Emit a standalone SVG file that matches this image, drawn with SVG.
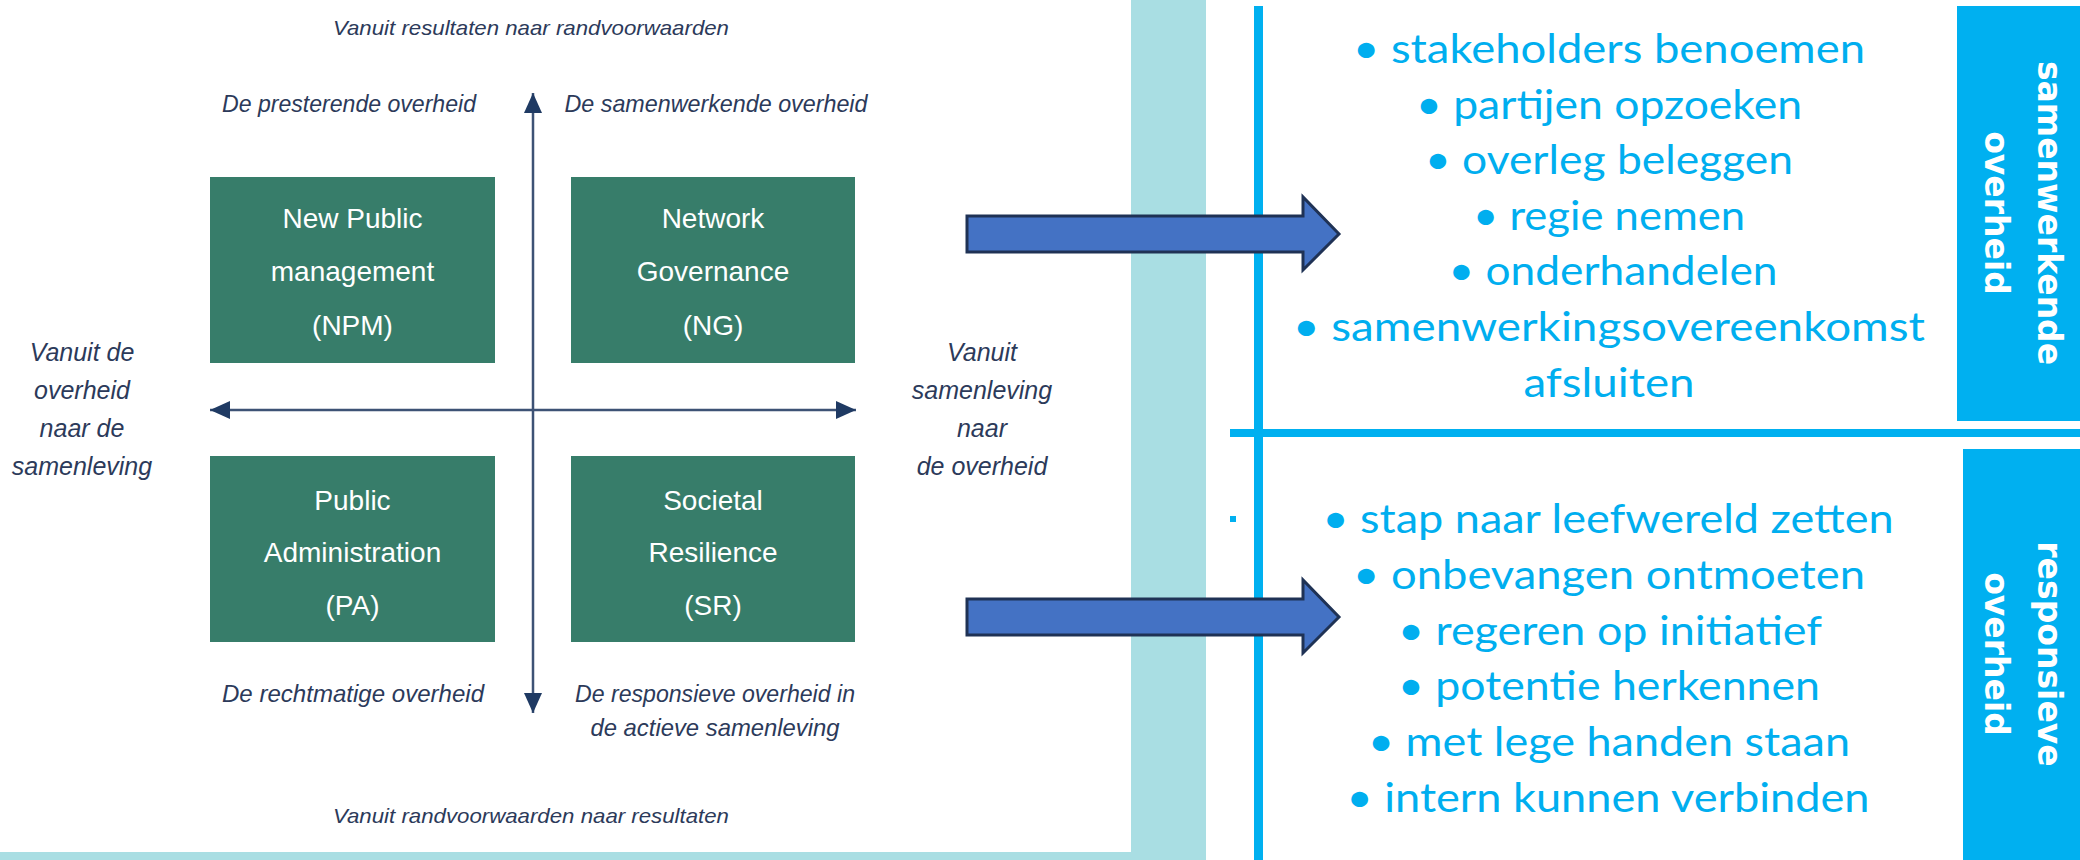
<svg xmlns="http://www.w3.org/2000/svg" width="2080" height="860" viewBox="0 0 2080 860">
<defs>
<style>
.lbl{font-family:"Liberation Sans",Arial,sans-serif;font-style:italic;fill:#2C3A5A;text-anchor:middle}
.box{fill:#377D6A}
.boxt{font-family:"Liberation Sans",Arial,sans-serif;font-size:28px;fill:#FFFFFF;text-anchor:middle}
.item{font-family:Lato,"Open Sans",sans-serif;font-size:40px;fill:#00AEEF;text-anchor:middle}
.tab{fill:#00B0F0}
.tabt{font-family:"DejaVu Sans",sans-serif;font-weight:bold;font-size:33px;fill:#FFFFFF;text-anchor:middle}
.axis{stroke:#3D5275;stroke-width:2.5;fill:none}
.blk{fill:#4472C4;stroke:#1F3255;stroke-width:3;stroke-linejoin:miter}
</style>
<marker id="ah" markerUnits="userSpaceOnUse" markerWidth="20" markerHeight="18" refX="20" refY="9" orient="auto-start-reverse">
<path d="M0,0 L20,9 L0,18 z" fill="#1F3A63"/>
</marker>
</defs>
<rect width="2080" height="860" fill="#FFFFFF"/>
<rect x="1131" y="0" width="75" height="860" fill="#A9DEE3"/>
<rect x="0" y="852" width="1131" height="8" fill="#A9DEE3"/>

<g id="left-diagram">
<g id="label-top"><text class="lbl" x="531" y="35" font-size="21" textLength="396" lengthAdjust="spacingAndGlyphs">Vanuit resultaten naar randvoorwaarden</text></g>
<g id="label-bottom"><text class="lbl" x="531" y="823" font-size="21" textLength="396" lengthAdjust="spacingAndGlyphs">Vanuit randvoorwaarden naar resultaten</text></g>
<g id="label-presterende"><text class="lbl" x="349" y="112" font-size="24" textLength="254" lengthAdjust="spacingAndGlyphs">De presterende overheid</text></g>
<g id="label-samenwerkende"><text class="lbl" x="716" y="112" font-size="24" textLength="303" lengthAdjust="spacingAndGlyphs">De samenwerkende overheid</text></g>
<g id="label-rechtmatige"><text class="lbl" x="353" y="702" font-size="24" textLength="262" lengthAdjust="spacingAndGlyphs">De rechtmatige overheid</text></g>
<g id="label-responsieve">
<text class="lbl" x="715" y="702" font-size="24" textLength="280" lengthAdjust="spacingAndGlyphs">De responsieve overheid in</text>
<text class="lbl" x="715" y="736" font-size="24" textLength="249" lengthAdjust="spacingAndGlyphs">de actieve samenleving</text>
</g>
<g id="label-left" class="lbl" font-size="25">
<text x="82" y="361">Vanuit de</text>
<text x="82" y="399">overheid</text>
<text x="82" y="437">naar de</text>
<text x="82" y="475">samenleving</text>
</g>
<g id="label-right" class="lbl" font-size="25">
<text x="982" y="361">Vanuit</text>
<text x="982" y="399">samenleving</text>
<text x="982" y="437">naar</text>
<text x="982" y="475">de overheid</text>
</g>

<g id="node-npm">
<rect class="box" x="210" y="177" width="285" height="186"/>
<text class="boxt" x="352.5" y="228">New Public</text>
<text class="boxt" x="352.5" y="281">management</text>
<text class="boxt" x="352.5" y="335">(NPM)</text>
</g>
<g id="node-ng">
<rect class="box" x="571" y="177" width="284" height="186"/>
<text class="boxt" x="713" y="228">Network</text>
<text class="boxt" x="713" y="281">Governance</text>
<text class="boxt" x="713" y="335">(NG)</text>
</g>
<g id="node-pa">
<rect class="box" x="210" y="456" width="285" height="186"/>
<text class="boxt" x="352.5" y="510">Public</text>
<text class="boxt" x="352.5" y="562">Administration</text>
<text class="boxt" x="352.5" y="615">(PA)</text>
</g>
<g id="node-sr">
<rect class="box" x="571" y="456" width="284" height="186"/>
<text class="boxt" x="713" y="510">Societal</text>
<text class="boxt" x="713" y="562">Resilience</text>
<text class="boxt" x="713" y="615">(SR)</text>
</g>
</g>

<g id="right-panel">
<rect x="1254" y="6" width="9" height="854" fill="#00B0F0"/>
<rect x="1230" y="429" width="850" height="8" fill="#00B0F0"/>
<rect x="1230" y="516" width="6" height="6" fill="#00B0F0"/>
<g id="node-samenwerkende-list">
<text class="item" x="1609" y="63" textLength="512" lengthAdjust="spacingAndGlyphs">• stakeholders benoemen</text>
<text class="item" x="1609" y="119" textLength="386" lengthAdjust="spacingAndGlyphs">• partijen opzoeken</text>
<text class="item" x="1609" y="174" textLength="368" lengthAdjust="spacingAndGlyphs">• overleg beleggen</text>
<text class="item" x="1609" y="230" textLength="272" lengthAdjust="spacingAndGlyphs">• regie nemen</text>
<text class="item" x="1613" y="285" textLength="329" lengthAdjust="spacingAndGlyphs">• onderhandelen</text>
<text class="item" x="1609" y="341" textLength="632" lengthAdjust="spacingAndGlyphs">• samenwerkingsovereenkomst</text>
<text class="item" x="1609" y="397" textLength="171" lengthAdjust="spacingAndGlyphs">afsluiten</text>
</g>
<g id="node-responsieve-list">
<text class="item" x="1608" y="533" textLength="571" lengthAdjust="spacingAndGlyphs">• stap naar leefwereld zetten</text>
<text class="item" x="1609" y="589" textLength="512" lengthAdjust="spacingAndGlyphs">• onbevangen ontmoeten</text>
<text class="item" x="1610" y="645" textLength="424" lengthAdjust="spacingAndGlyphs">• regeren op initiatief</text>
<text class="item" x="1609" y="700" textLength="422" lengthAdjust="spacingAndGlyphs">• potentie herkennen</text>
<text class="item" x="1609" y="756" textLength="482" lengthAdjust="spacingAndGlyphs">• met lege handen staan</text>
<text class="item" x="1608" y="812" textLength="523" lengthAdjust="spacingAndGlyphs">• intern kunnen verbinden</text>
</g>
<g id="node-tab-samenwerkende">
<rect class="tab" x="1957" y="6" width="123" height="415"/>
<g transform="translate(2020,213) rotate(90)">
<text class="tabt" x="0" y="-18">samenwerkende</text>
<text class="tabt" x="0" y="35">overheid</text>
</g>
</g>
<g id="node-tab-responsieve">
<rect class="tab" x="1963" y="449" width="117" height="411"/>
<g transform="translate(2020,654) rotate(90)">
<text class="tabt" x="0" y="-18">responsieve</text>
<text class="tabt" x="0" y="35">overheid</text>
</g>
</g>
</g>

<g id="connectors">
<line class="axis" x1="533" y1="93" x2="533" y2="713" marker-start="url(#ah)" marker-end="url(#ah)"/>
<line class="axis" x1="210" y1="410" x2="856" y2="410" marker-start="url(#ah)" marker-end="url(#ah)"/>
<polygon class="blk" points="967,216 1303,216 1303,197 1339,234 1303,270 1303,252 967,252"/>
<polygon class="blk" points="967,599 1303,599 1303,580 1339,617 1303,653 1303,635 967,635"/>
</g>
</svg>
